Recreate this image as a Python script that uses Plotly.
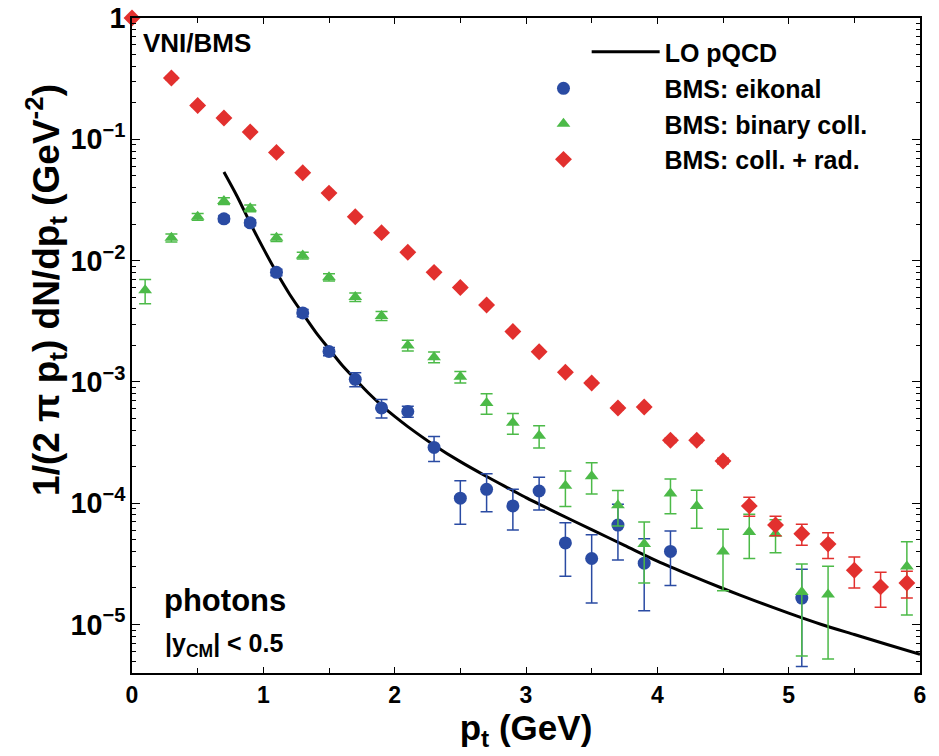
import plotly.graph_objects as go

# ---------------- data ----------------
pt_red = [0.0, 0.3, 0.5, 0.7, 0.9, 1.1, 1.3, 1.5, 1.7, 1.9, 2.1, 2.3, 2.5, 2.7, 2.9,
          3.1, 3.3, 3.5, 3.7, 3.9, 4.1, 4.3, 4.5, 4.7, 4.9, 5.1, 5.3, 5.5, 5.7, 5.9]
y_red = [1.0, 0.32, 0.19, 0.15, 0.115, 0.078, 0.053, 0.036, 0.023, 0.017, 0.0117, 0.0080,
         0.0060, 0.0043, 0.0026, 0.00177, 0.0012, 0.00098, 0.00061, 0.00062, 0.00033,
         0.00033, 0.000223, 9.5e-5, 6.6e-5, 5.6e-5, 4.6e-5, 2.8e-5, 2.04e-5, 2.2e-5]
err_red = [0.03, 0.01, 0.006, 0.004, 0.003, 0.002, 0.0014, 0.0009, 0.0006, 0.0004, 0.0003,
           0.0002, 0.00015, 0.0001, 7e-5, 5e-5, 3.5e-5, 3e-5, 2e-5, 2e-5, 1.3e-5, 1.3e-5,
           1.2e-5, 1.7e-5, 1.2e-5, 1.1e-5, 1.1e-5, 8e-6, 6.5e-6, 5.5e-6]

pt_green = [0.1, 0.3, 0.5, 0.7, 0.9, 1.1, 1.3, 1.5, 1.7, 1.9, 2.1, 2.3, 2.5, 2.7, 2.9,
            3.1, 3.3, 3.5, 3.7, 3.9, 4.1, 4.3, 4.5, 4.7, 4.9, 5.1, 5.3, 5.9]
y_green = [0.0057, 0.0154, 0.023, 0.031, 0.027, 0.0154, 0.011, 0.0073, 0.0050, 0.0035,
           0.0020, 0.0016, 0.0011, 0.00067, 0.00046, 0.00036, 1.39e-4, 1.67e-4, 9.6e-5,
           4.6e-5, 1.2e-4, 9.5e-5, 4.0e-5, 5.8e-5, 5.6e-5, 1.85e-5, 1.77e-5, 3.0e-5]
err_green = [0.0013, 0.0012, 0.0015, 0.002, 0.0017, 0.001, 0.0007, 0.0005, 0.0004, 0.0003,
             0.0002, 0.00016, 0.00012, 1.3e-4, 9e-5, 7.5e-5, 4.5e-5, 4.8e-5, 3.1e-5,
             2.4e-5, 3.8e-5, 3.3e-5, 2.1e-5, 2.3e-5, 1.7e-5, 1.3e-5, 1.25e-5, 1.8e-5]

pt_blue = [0.7, 0.9, 1.1, 1.3, 1.5, 1.7, 1.9, 2.1, 2.3, 2.5, 2.7, 2.9, 3.1, 3.3, 3.5,
           3.7, 3.9, 4.1, 5.1]
y_blue = [0.0221, 0.0205, 0.0080, 0.0037, 0.00178, 0.00105, 0.00061, 0.00057, 0.000288,
          1.1e-4, 1.3e-4, 9.5e-5, 1.26e-4, 4.7e-5, 3.5e-5, 6.6e-5, 3.2e-5, 4.0e-5, 1.65e-5]
err_blue = [0.0012, 0.0011, 0.0005, 0.00025, 0.00014, 0.00014, 0.000105, 6e-5, 6.7e-5,
            4.3e-5, 4.5e-5, 3.5e-5, 3.8e-5, 2.2e-5, 2.0e-5, 3.2e-5, 1.9e-5, 1.9e-5, 1.2e-5]

pt_lo = [0.7, 0.8, 0.9, 1.0, 1.1, 1.2, 1.3, 1.4, 1.5, 1.6, 1.7, 1.8, 1.9, 2.0, 2.1,
         2.3, 2.5, 2.7, 2.9, 3.0, 3.25, 3.5, 3.75, 4.0, 4.25, 4.5, 4.75, 5.0, 5.25,
         5.5, 5.75, 6.0]
y_lo = [0.0537, 0.0339, 0.0204, 0.0126, 0.0080, 0.00528, 0.00366, 0.00256, 0.00187,
        0.00137, 0.00105, 0.000809, 0.000641, 0.000519, 0.000428, 0.000301, 0.000220,
        0.000166, 0.000127, 0.000111, 8.17e-5, 6.05e-5, 4.49e-5, 3.33e-5, 2.55e-5,
        1.98e-5, 1.56e-5, 1.24e-5, 1.00e-5, 8.26e-6, 6.84e-6, 5.69e-6]

names = ["LO pQCD", "BMS: eikonal", "BMS: binary coll.", "BMS: coll. + rad."]
y_title = "1/(2 π p<sub>t</sub>) dN/dp<sub>t</sub> (GeV<sup>-2</sup>)"
x_title = "p<sub>t</sub> (GeV)"

BLUE = "#2a4ba3"
GREEN = "#4cba48"
RED = "#e2302e"
FONT = "Liberation Sans"

fig = go.Figure()

fig.add_trace(go.Scatter(
    x=pt_lo, y=y_lo, mode="lines", name=names[0],
    line=dict(color="black", width=3, shape="spline", smoothing=0.8), legend="legend"))

fig.add_trace(go.Scatter(
    x=pt_blue, y=y_blue, mode="markers", name=names[1], legend="legend2",
    marker=dict(symbol="circle", size=13, color=BLUE),
    error_y=dict(type="data", array=err_blue, color=BLUE, thickness=1.5, width=6)))

fig.add_trace(go.Scatter(
    x=pt_green, y=y_green, mode="markers", name=names[2], legend="legend2",
    marker=dict(symbol="triangle-up", size=12, color=GREEN),
    error_y=dict(type="data", array=err_green, color=GREEN, thickness=1.5, width=6)))

fig.add_trace(go.Scatter(
    x=pt_red, y=y_red, mode="markers", name=names[3], legend="legend2",
    cliponaxis=False,
    marker=dict(symbol="diamond", size=13, color=RED),
    error_y=dict(type="data", array=err_red, color=RED, thickness=1.5, width=6)))

axis_common = dict(
    showline=True, linecolor="black", linewidth=2, mirror="allticks",
    ticks="inside", tickcolor="black", showgrid=False, zeroline=False,
    automargin=False, ticklabeloverflow="allow",
    tickfont=dict(family=FONT, size=23, color="black", weight="bold"),
)

legend_font = dict(family=FONT, size=25, color="black", weight="bold")

fig.update_layout(
    width=939, height=756,
    margin=dict(l=132, r=19, t=18, b=83),
    paper_bgcolor="white", plot_bgcolor="white",
    font=dict(family=FONT, color="black"),
    showlegend=True,
    xaxis=dict(
        range=[0, 6], dtick=1, ticklen=6,
        minor=dict(dtick=0.5, ticks="inside", ticklen=5, tickcolor="black"),
        title=dict(text=x_title, standoff=0,
                   font=dict(family=FONT, size=35, color="black", weight="bold")),
        **axis_common),
    yaxis=dict(
        type="log", range=[-5.4, 0], dtick=1, ticklen=8,
        exponentformat="power", showexponent="all",
        minor=dict(dtick="D1", ticks="inside", ticklen=4, tickcolor="black"),
        **axis_common),
    legend=dict(
        x=0.577, y=0.948, xanchor="left", yanchor="middle",
        bgcolor="rgba(0,0,0,0)", itemwidth=68,
        font=legend_font, tracegroupgap=0),
    legend2=dict(
        x=0.4194, y=0.838, xanchor="left", yanchor="middle",
        bgcolor="rgba(0,0,0,0)", itemwidth=192,
        font=legend_font, tracegroupgap=0),
    annotations=[
        dict(text=y_title, xref="paper", yref="paper", x=-0.109, y=0.585,
             xanchor="center", yanchor="middle", textangle=-90, showarrow=False,
             font=dict(family=FONT, size=37, color="black", weight="bold")),
        dict(text="VNI/BMS", xref="paper", yref="paper", x=0.011, y=0.962,
             xanchor="left", yanchor="middle", showarrow=False,
             font=dict(family=FONT, size=26, color="black", weight="bold")),
        dict(text="photons", xref="paper", yref="paper", x=0.038, y=0.111,
             xanchor="left", yanchor="middle", showarrow=False,
             font=dict(family=FONT, size=31, color="black", weight="bold")),
        dict(text="|y<sub>CM</sub>| < 0.5", xref="paper", yref="paper", x=0.039, y=0.043,
             xanchor="left", yanchor="middle", showarrow=False,
             font=dict(family=FONT, size=25, color="black", weight="bold")),
    ],
)

# remove the default 8px page margin so the figure sits at the window origin
fig.write_html("out.html", config={"displayModeBar": False},
               post_script="document.body.style.margin='0px';")
